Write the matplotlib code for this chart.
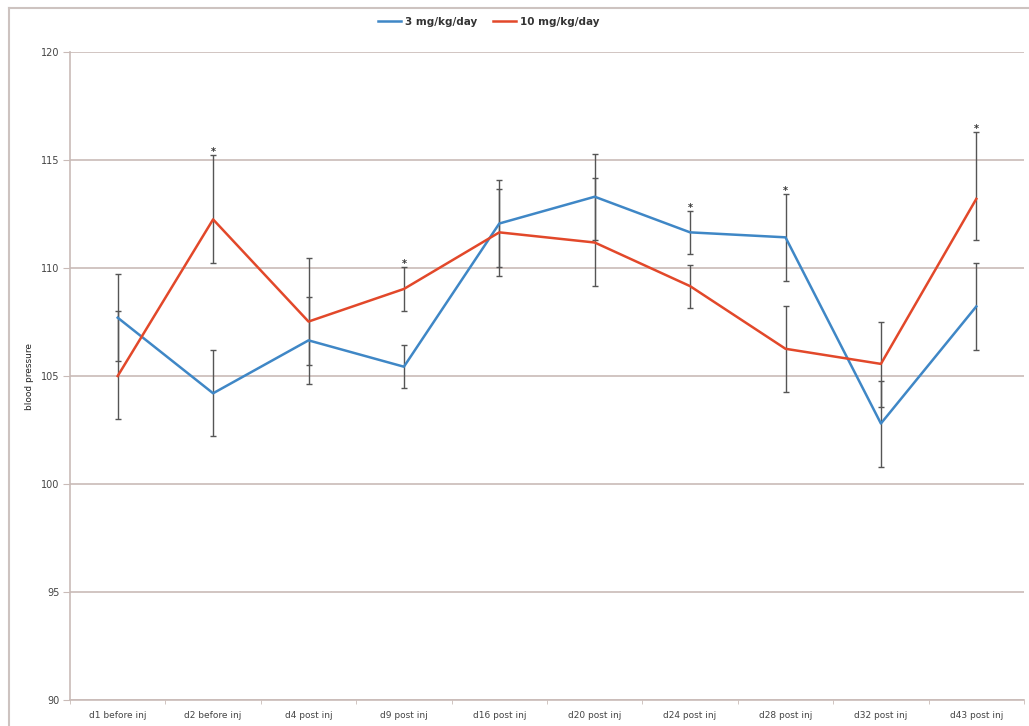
import matplotlib
matplotlib.use("Agg")
import matplotlib.pyplot as plt
import numpy as np
from matplotlib.lines import Line2D

categories = ["d1 before inj", "d2 before inj", "d4 post inj", "d9 post inj", "d16 post inj",
              "d20 post inj", "d24 post inj", "d28 post inj", "d32 post inj", "d43 post inj"]
low_dose = [107.7, 104.2, 106.65, 105.43, 112.06, 113.3, 111.65, 111.42, 102.8, 108.22]
low_err_lo = [2.0, 2.0, 2.0, 1.0, 2.0, 2.0, 1.0, 2.0, 2.0, 2.0]
low_err_hi = [2.0, 2.0, 2.0, 1.0, 2.0, 2.0, 1.0, 2.0, 1.95, 2.0]
high_dose = [105.0, 112.25, 107.52, 109.03, 111.65, 111.18, 109.16, 106.26, 105.56, 113.2]
high_err_lo = [2.0, 2.0, 2.0, 1.0, 2.0, 2.0, 1.0, 2.0, 2.0, 1.9]
high_err_hi = [3.0, 3.0, 2.95, 1.0, 2.0, 3.0, 1.0, 2.0, 1.95, 3.1]
significant = [False, True, False, True, False, False, True, True, False, True]
series_names = ["3 mg/kg/day", "10 mg/kg/day"]
y_ticks = [90, 95, 100, 105, 110, 115, 120]

blue = "#3f87c6"
red = "#e2482a"
grid_col = "#c9bbb7"
err_col = "#555555"
txt_col = "#333333"

W, H = 1029, 726
fig = plt.figure(figsize=(W / 100, H / 100), dpi=100)
fig.patch.set_facecolor("white")

# outer chart border
fig.add_artist(Line2D([9 / W, 9 / W], [0, 1 - 8 / H], transform=fig.transFigure, color="#cdc3c0", lw=1.5))
fig.add_artist(Line2D([9 / W, 1], [1 - 8 / H, 1 - 8 / H], transform=fig.transFigure, color="#cdc3c0", lw=1.5))

ax = fig.add_axes([70 / W, 26 / H, (1024 - 70) / W, (700 - 52) / H])
x = np.arange(len(categories))

for vals, lo, hi in [(low_dose, low_err_lo, low_err_hi), (high_dose, high_err_lo, high_err_hi)]:
    ax.errorbar(x, vals, yerr=[lo, hi], fmt="none", ecolor=err_col, elinewidth=1.0,
                capsize=2.5, capthick=1.0, zorder=2)

ax.plot(x, low_dose, color=blue, lw=1.8, zorder=3, label=series_names[0])
ax.plot(x, high_dose, color=red, lw=1.8, zorder=3, label=series_names[1])

for i, sig in enumerate(significant):
    if sig:
        top = max(low_dose[i] + low_err_hi[i], high_dose[i] + high_err_hi[i])
        ax.annotate("*", (x[i], top), xytext=(0, -1.5), textcoords="offset points",
                    ha="center", va="bottom", fontsize=7, color=txt_col, fontweight="bold")

ax.set_xlim(-0.5, len(categories) - 0.5)
ax.set_ylim(90, 120)
ax.set_yticks(y_ticks)
ax.set_yticklabels([str(t) for t in y_ticks], fontsize=7, color="#444444")
ax.yaxis.grid(True, color=grid_col, lw=1.2)
ax.set_axisbelow(True)
ax.set_xticks(x)
ax.set_xticklabels(categories, fontsize=6.5, color="#444444")
ax.set_xticks(np.arange(len(categories) + 1) - 0.5, minor=True)
ax.tick_params(axis="x", which="major", length=0, pad=8)
ax.tick_params(axis="x", which="minor", length=3, color=grid_col)
ax.tick_params(axis="y", length=5, color=grid_col, pad=2.5)
for s in ["top", "right"]:
    ax.spines[s].set_visible(False)
for s in ["left", "bottom"]:
    ax.spines[s].set_color(grid_col)
    ax.spines[s].set_linewidth(1.2)
ax.set_ylabel("blood pressure", fontsize=6.5, color="#222222", labelpad=5)

leg = fig.legend(loc="center", bbox_to_anchor=(0.475, 1 - 22 / H), ncol=2, frameon=False,
                 fontsize=7.5, handlelength=2.2, columnspacing=1.5, handletextpad=0.4)
for t in leg.get_texts():
    t.set_fontweight("bold")
    t.set_color("#333333")

fig.savefig("out.png", dpi=100, facecolor="white")
